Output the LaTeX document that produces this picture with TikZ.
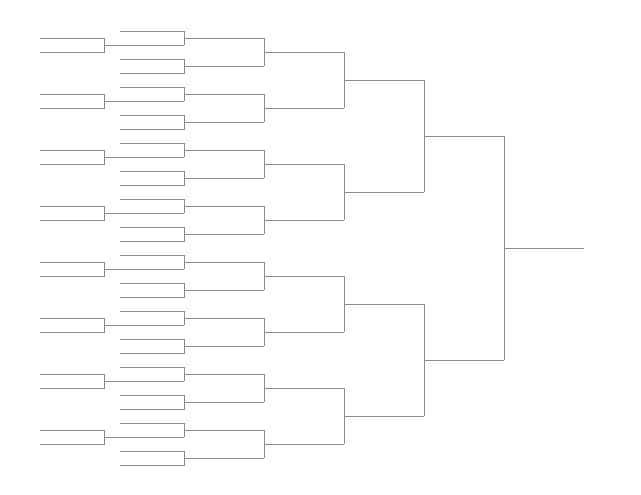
\documentclass[tikz,border=0pt]{standalone}
\begin{document}
\begin{tikzpicture}[x=1pt,y=-1pt,br/.style={draw=black!45,line width=0.7pt}]
\useasboundingbox (0,0) rectangle (641,495);
\foreach \k in {0,...,7}{
  \pgfmathsetmacro{\b}{56*\k}
  \begin{scope}[yshift=-\b pt]
  \draw[br] (40,38)--(104,38)--(104,52)--(40,52);
  \draw[br] (104,45)--(184,45);
  \draw[br] (120,31)--(184,31)--(184,45);
  \draw[br] (184,38)--(264,38);
  \draw[br] (120,59)--(184,59)--(184,73)--(120,73);
  \draw[br] (184,66)--(264,66);
  \draw[br] (264,38)--(264,66);
  \draw[br] (264,52)--(344,52);
  \end{scope}}
\foreach \j in {0,...,3}{
  \pgfmathsetmacro{\b}{112*\j}
  \begin{scope}[yshift=-\b pt]
  \draw[br] (344,52)--(344,108);
  \draw[br] (344,80)--(424,80);
  \end{scope}}
\foreach \m in {0,1}{
  \pgfmathsetmacro{\b}{224*\m}
  \begin{scope}[yshift=-\b pt]
  \draw[br] (424,80)--(424,192);
  \draw[br] (424,136)--(504,136);
  \end{scope}}
\draw[br] (504,136)--(504,360);
\draw[br] (504,248)--(584,248);
\end{tikzpicture}
\end{document}
